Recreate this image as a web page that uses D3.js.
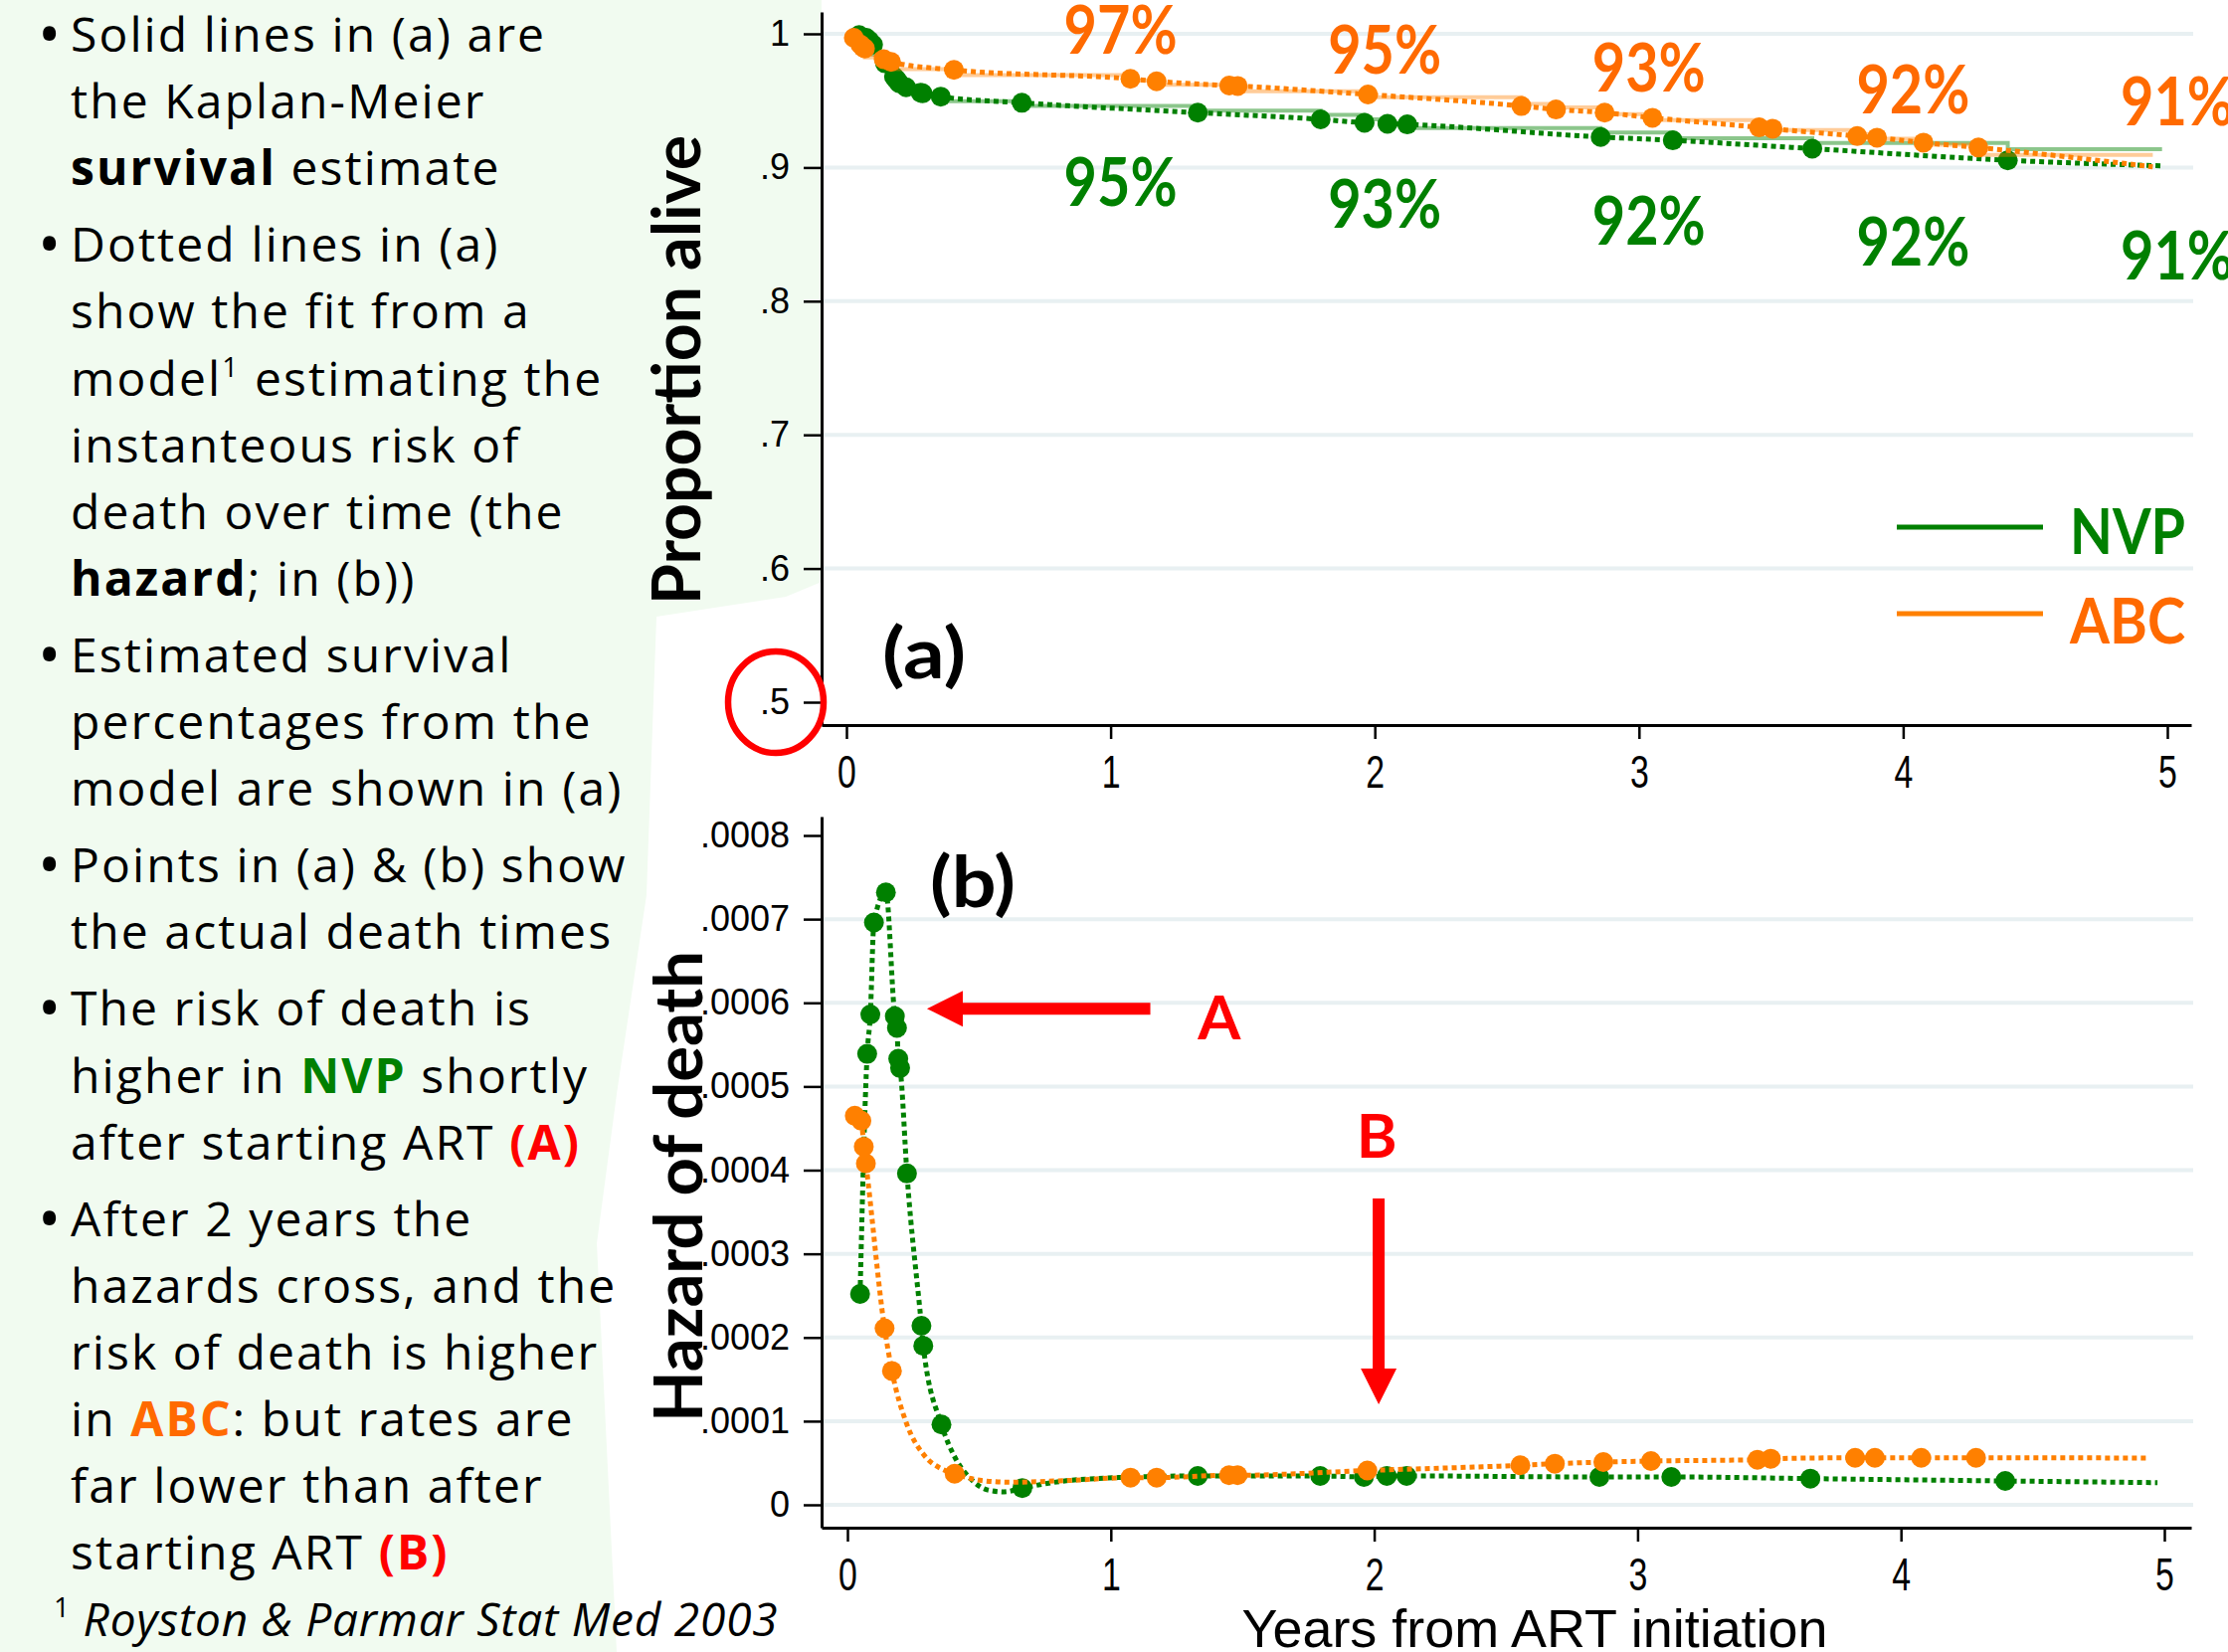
<!DOCTYPE html>
<html>
<head>
<meta charset="utf-8">
<script src="https://cdn.jsdelivr.net/npm/d3@7"></script>
<style>
  html, body { margin: 0; padding: 0; background: #fff; }
  svg { display: block; }
</style>
</head>
<body>
<svg id="mainsvg" width="2240" height="1661"></svg>
<script>
// ---- data ----
const yearTicks = [0, 1, 2, 3, 4, 5];
const survTicks = [0.5, 0.6, 0.7, 0.8, 0.9, 1];
const hazTicks = [0, 0.0001, 0.0002, 0.0003, 0.0004, 0.0005, 0.0006, 0.0007, 0.0008];

// NVP (green): death times, model survival, Kaplan-Meier level after each death, model hazard
const nvpTimes = [0.048, 0.075, 0.087, 0.1006, 0.146, 0.180, 0.188, 0.193, 0.200, 0.226, 0.281, 0.288, 0.357,
    0.664, 1.330, 1.795, 1.961, 2.048, 2.123, 2.855, 3.128, 3.656, 4.396];
const nvpFit = [0.999, 0.997, 0.995, 0.992, 0.978, 0.968, 0.966, 0.965, 0.963, 0.960, 0.956, 0.9555, 0.953,
    0.9484, 0.941, 0.936, 0.9335, 0.9327, 0.9322, 0.9228, 0.9203, 0.9141, 0.9054];
const nvpKM = [0.9961, 0.9922, 0.9884, 0.9845, 0.9806, 0.9767, 0.9729, 0.9690, 0.9651, 0.9612, 0.9574, 0.9535, 0.9496,
    0.9461, 0.9426, 0.9393, 0.9360, 0.9327, 0.9295, 0.9262, 0.9218, 0.9183, 0.9136];
const nvpHaz = [2.52e-4, 5.39e-4, 5.86e-4, 6.96e-4, 7.32e-4, 5.84e-4, 5.70e-4, 5.33e-4, 5.22e-4, 3.96e-4, 2.14e-4, 1.90e-4, 0.96e-4,
    0.20e-4, 0.345e-4, 0.345e-4, 0.333e-4, 0.345e-4, 0.345e-4, 0.333e-4, 0.333e-4, 0.313e-4, 0.285e-4];
const nvpEndTime = 4.98;
const nvpFitEnd = 0.9012;
const nvpHazCurveT = [0.411, 0.465, 0.530, 0.595, 0.81, 0.985, 4.974];
const nvpHazCurveH = [0.55e-4, 0.32e-4, 0.18e-4, 0.155e-4, 0.28e-4, 0.32e-4, 0.265e-4];

// ABC (orange)
const abcTimes = [0.028, 0.053, 0.062, 0.070, 0.141, 0.169, 0.407, 1.075, 1.174, 1.449, 1.481, 1.974,
    2.555, 2.686, 2.870, 3.051, 3.455, 3.506, 3.826, 3.901, 4.077, 4.285];
const abcFit = [0.997, 0.992, 0.990, 0.989, 0.981, 0.979, 0.973, 0.9663, 0.9645, 0.9613, 0.961, 0.9546,
    0.946, 0.9434, 0.941, 0.9372, 0.930, 0.929, 0.9235, 0.9223, 0.9186, 0.9149];
const abcKM = [0.9956, 0.9912, 0.9868, 0.9824, 0.9780, 0.9736, 0.9692, 0.9651, 0.9618, 0.9597, 0.9570, 0.9526,
    0.9475, 0.9450, 0.9400, 0.9355, 0.9315, 0.9280, 0.9250, 0.9215, 0.9170, 0.9095];
const abcHaz = [4.65e-4, 4.59e-4, 4.28e-4, 4.08e-4, 2.11e-4, 1.60e-4, 0.372e-4, 0.325e-4, 0.325e-4, 0.353e-4, 0.353e-4, 0.41e-4,
    0.472e-4, 0.491e-4, 0.511e-4, 0.523e-4, 0.539e-4, 0.551e-4, 0.562e-4, 0.562e-4, 0.562e-4, 0.562e-4];
const abcEndTime = 4.945;
const abcFitEnd = 0.9005;
const abcHazCurveT = [0.227, 0.292, 0.357, 0.509, 0.617, 0.833, 4.943];
const abcHazCurveH = [0.95e-4, 0.59e-4, 0.43e-4, 0.29e-4, 0.27e-4, 0.29e-4, 0.559e-4];

// survival percentages printed at each year, and the survival level their baseline sits at
const pctYears = [1, 2, 3, 4, 5];
const abcPct = ['97%', '95%', '93%', '92%', '91%'];
const nvpPct = ['95%', '93%', '92%', '92%', '91%'];
const abcPctAt = [0.9855, 0.9706, 0.9572, 0.9408, 0.9319];
const nvpPctAt = [0.8716, 0.8552, 0.8425, 0.8269, 0.8165];

// left hand notes
const notes = [
    [[['Solid lines in (a) are']], [['the Kaplan-Meier']], [['survival', 'b'], [' estimate']]],
    [[['Dotted lines in (a)']], [['show the fit from a']], [['model'], ['1', 'sup'], [' estimating the']],
        [['instanteous risk of']], [['death over time (the']], [['hazard', 'b'], ['; in (b))']]],
    [[['Estimated survival']], [['percentages from the']], [['model are shown in (a)']]],
    [[['Points in (a) & (b) show']], [['the actual death times']]],
    [[['The risk of death is']], [['higher in '], ['NVP', 'green'], [' shortly']], [['after starting ART '], ['(A)', 'red']]],
    [[['After 2 years the']], [['hazards cross, and the']], [['risk of death is higher']],
        [['in '], ['ABC', 'orange'], [': but rates are']], [['far lower than after']], [['starting ART '], ['(B)', 'red']]]
];

// ---- drawing ----
const GREEN = '#008000', ORANGE = '#ff8000', ORANGE_TXT = '#ff6a00', RED = '#ff0000';
const GRID = '#e8f0f2';
const svg = d3.select('#mainsvg');

svg.append('rect').attr('width', 2240).attr('height', 1661).attr('fill', '#fff');
// faint green backdrop of the slide
svg.append('path')
    .attr('d', 'M0,0 L826,0 L826,585 L790,600 L660,620 L650,900 L620,1100 L600,1250 L620,1661 L0,1661 Z')
    .attr('fill', '#f1fbf0');

// scales: tick positions first, then stretched to the full axis lines
const xTop0 = d3.scaleLinear().domain([0, 5]).range([851, 2179]);
const xTop = d3.scaleLinear().domain([xTop0.invert(826), xTop0.invert(2203)]).range([826, 2203]);
const yTop0 = d3.scaleLinear().domain([0.5, 1]).range([706, 34]);
const yTop = d3.scaleLinear().domain([yTop0.invert(729), yTop0.invert(12)]).range([729, 12]);
const xBot0 = d3.scaleLinear().domain([0, 5]).range([852, 2176]);
const xBot = d3.scaleLinear().domain([xBot0.invert(826), xBot0.invert(2203)]).range([826, 2203]);
const yBot0 = d3.scaleLinear().domain([0, 0.0008]).range([1513, 840]);
const yBot = d3.scaleLinear().domain([yBot0.invert(1536), yBot0.invert(821)]).range([1536, 821]);

const decFmt = d => d === 0 ? '0' : (d === 1 ? '1' : String(d).replace(/^0/, ''));

function drawFrame(x, y, yTickVals, gridVals, axisY) {
    const g = svg.append('g');
    g.selectAll('line.grid').data(gridVals).enter()
        .append('line')
        .attr('x1', 826).attr('x2', 2205)
        .attr('y1', d => y(d)).attr('y2', d => y(d))
        .attr('stroke', GRID).attr('stroke-width', 4);

    const ya = g.append('g').attr('transform', 'translate(826,0)')
        .call(d3.axisLeft(y).tickValues(yTickVals).tickFormat(decFmt).tickSize(18).tickSizeOuter(0).tickPadding(14));
    ya.select('.domain').attr('stroke-width', 3);
    ya.selectAll('.tick line').attr('stroke-width', 2.5);
    ya.selectAll('.tick text').attr('font-family', '"Liberation Sans", Arial, sans-serif')
        .attr('font-size', 36).attr('fill', '#000');

    const xa = g.append('g').attr('transform', `translate(0,${axisY})`)
        .call(d3.axisBottom(x).tickValues(yearTicks).tickFormat(d => String(d))
            .tickSize(14).tickSizeOuter(0).tickPadding(16));
    xa.select('.domain').attr('stroke-width', 3);
    xa.selectAll('.tick line').attr('stroke-width', 2.5);
    xa.selectAll('.tick text').attr('font-family', '"Liberation Sans", Arial, sans-serif')
        .attr('font-size', 47).attr('fill', '#000').attr('transform', 'scale(0.72,1)');
    return g;
}

drawFrame(xTop, yTop, survTicks, [0.6, 0.7, 0.8, 0.9, 1], 729);
drawFrame(xBot, yBot, hazTicks, hazTicks.slice(0, 8), 1536);

const pts = (ts, vs) => ts.map((t, i) => [t, vs[i]]);

function drawSeries(color, kmColor, times, fit, km, endT, fitEnd, haz, extraT, extraH) {
    // (a) Kaplan-Meier step line
    const kmPts = [[0, 1]].concat(pts(times, km), [[endT, km[km.length - 1]]]);
    svg.append('path').datum(kmPts)
        .attr('d', d3.line().curve(d3.curveStepAfter).x(d => xTop(d[0])).y(d => yTop(d[1])))
        .attr('fill', 'none').attr('stroke', kmColor).attr('stroke-width', 4);
    // (a) model fit, dotted
    const fitPts = pts(times, fit).concat([[endT, fitEnd]]);
    svg.append('path').datum(fitPts)
        .attr('d', d3.line().curve(d3.curveMonotoneX).x(d => xTop(d[0])).y(d => yTop(d[1])))
        .attr('fill', 'none').attr('stroke', color).attr('stroke-width', 5).attr('stroke-dasharray', '5 4');
    svg.append('g').selectAll('circle').data(pts(times, fit)).enter()
        .append('circle').attr('cx', d => xTop(d[0])).attr('cy', d => yTop(d[1])).attr('r', 10).attr('fill', color);

    // (b) hazard
    const hazPts = pts(times, haz).concat(pts(extraT, extraH)).sort((a, b) => a[0] - b[0]);
    svg.append('path').datum(hazPts)
        .attr('d', d3.line().curve(d3.curveMonotoneX).x(d => xBot(d[0])).y(d => yBot(d[1])))
        .attr('fill', 'none').attr('stroke', color).attr('stroke-width', 5).attr('stroke-dasharray', '5 4');
    svg.append('g').selectAll('circle').data(pts(times, haz)).enter()
        .append('circle').attr('cx', d => xBot(d[0])).attr('cy', d => yBot(d[1])).attr('r', 10).attr('fill', color);
}

drawSeries(GREEN, 'rgba(0,128,0,0.45)', nvpTimes, nvpFit, nvpKM, nvpEndTime, nvpFitEnd, nvpHaz, nvpHazCurveT, nvpHazCurveH);
drawSeries(ORANGE, 'rgba(255,128,0,0.4)', abcTimes, abcFit, abcKM, abcEndTime, abcFitEnd, abcHaz, abcHazCurveT, abcHazCurveH);

// percentage labels
function pctLabels(labels, at, color) {
    svg.append('g').selectAll('text').data(labels).enter()
        .append('text')
        .attr('x', (d, i) => xTop(pctYears[i]) + 10)
        .attr('y', (d, i) => yTop(at[i]))
        .attr('text-anchor', 'middle')
        .attr('font-family', 'Lato, sans-serif').attr('font-weight', 'bold').attr('font-size', 66)
        .attr('textLength', 114).attr('lengthAdjust', 'spacingAndGlyphs')
        .attr('fill', color)
        .text(d => d);
}
pctLabels(abcPct, abcPctAt, ORANGE_TXT);
pctLabels(nvpPct, nvpPctAt, GREEN);

// legend
const legend = [['NVP', GREEN, GREEN, 530, 557], ['ABC', ORANGE, ORANGE_TXT, 617, 647]];
legend.forEach(l => {
    svg.append('line').attr('x1', 1907).attr('x2', 2054).attr('y1', l[3]).attr('y2', l[3])
        .attr('stroke', l[1]).attr('stroke-width', 5);
    svg.append('text').attr('x', 2081).attr('y', l[4]).text(l[0])
        .attr('font-family', 'Lato, sans-serif').attr('font-weight', 'bold').attr('font-size', 63)
        .attr('textLength', 116).attr('lengthAdjust', 'spacingAndGlyphs').attr('fill', l[2]);
});

// panel letters and axis titles
const boldFont = 'Lato, sans-serif';
svg.append('text').attr('x', 929).attr('y', 682).attr('text-anchor', 'middle').text('(a)')
    .attr('font-family', boldFont).attr('font-weight', 'bold').attr('font-size', 70)
    .attr('textLength', 84).attr('lengthAdjust', 'spacingAndGlyphs');
svg.append('text').attr('x', 978).attr('y', 912).attr('text-anchor', 'middle').text('(b)')
    .attr('font-family', boldFont).attr('font-weight', 'bold').attr('font-size', 70)
    .attr('textLength', 86).attr('lengthAdjust', 'spacingAndGlyphs');
svg.append('text').attr('transform', 'translate(704,372) rotate(-90)').attr('text-anchor', 'middle')
    .text('Proportion alive').attr('font-family', boldFont).attr('font-weight', 'bold').attr('font-size', 66)
    .attr('textLength', 472).attr('lengthAdjust', 'spacingAndGlyphs');
svg.append('text').attr('transform', 'translate(706,1193) rotate(-90)').attr('text-anchor', 'middle')
    .text('Hazard of death').attr('font-family', boldFont).attr('font-weight', 'bold').attr('font-size', 66)
    .attr('textLength', 474).attr('lengthAdjust', 'spacingAndGlyphs');
svg.append('text').attr('x', 1543).attr('y', 1656).attr('text-anchor', 'middle')
    .text('Years from ART initiation')
    .attr('font-family', '"Liberation Sans", Arial, sans-serif').attr('font-size', 53)
    .attr('textLength', 589).attr('lengthAdjust', 'spacingAndGlyphs');

// red annotations
svg.append('ellipse').attr('cx', 780).attr('cy', yTop(0.5)).attr('rx', 48).attr('ry', 51)
    .attr('fill', 'none').attr('stroke', RED).attr('stroke-width', 6.5);

function arrow(x1, y1, x2, y2) {
    const dx = x2 - x1, dy = y2 - y1, len = Math.hypot(dx, dy);
    const ux = dx / len, uy = dy / len, head = 36, half = 18, shaft = 6;
    const bx = x2 - ux * head, by = y2 - uy * head;
    const p = [
        [x1 - uy * shaft, y1 + ux * shaft], [bx - uy * shaft, by + ux * shaft],
        [bx - uy * half, by + ux * half], [x2, y2],
        [bx + uy * half, by - ux * half], [bx + uy * shaft, by - ux * shaft],
        [x1 + uy * shaft, y1 - ux * shaft]
    ];
    svg.append('path').attr('d', 'M' + p.join('L') + 'Z').attr('fill', RED);
}
arrow(xBot(1.15), yBot(0.000593), xBot(0.302), yBot(0.000593));
arrow(xBot(2.017), yBot(0.000366), xBot(2.017), yBot(0.000120));
svg.append('text').attr('x', xBot(1.412)).attr('y', yBot(0.000556)).attr('text-anchor', 'middle').text('A')
    .attr('font-family', boldFont).attr('font-weight', 'bold').attr('font-size', 62).attr('fill', RED);
svg.append('text').attr('x', xBot(2.01)).attr('y', yBot(0.000415)).attr('text-anchor', 'middle').text('B')
    .attr('font-family', boldFont).attr('font-weight', 'bold').attr('font-size', 62).attr('fill', RED);

// left notes
const noteFont = '"Open Sans", sans-serif';
const styles = {
    b: { w: 'bold', c: '#000' }, green: { w: 'bold', c: GREEN },
    orange: { w: 'bold', c: ORANGE_TXT }, red: { w: 'bold', c: RED }
};
const tg = svg.append('g').attr('font-family', noteFont).attr('font-size', 48)
    .attr('letter-spacing', 2.1).attr('fill', '#000');
let yb = 52;
notes.forEach((para, pi) => {
    if (pi > 0) yb += 10;
    tg.append('text').attr('x', 38).attr('y', yb + 4).attr('font-size', 62).text('•');
    para.forEach(line => {
        const t = tg.append('text').attr('x', 71).attr('y', yb);
        let raised = false;
        line.forEach(seg => {
            const ts = t.append('tspan').text(seg[0]);
            if (seg[1] === 'sup') {
                ts.attr('font-size', 28).attr('dy', -19);
                raised = true;
            } else {
                if (raised) { ts.attr('dy', 19); raised = false; }
                if (styles[seg[1]]) ts.attr('font-weight', styles[seg[1]].w).attr('fill', styles[seg[1]].c);
            }
        });
        yb += 67.1;
    });
});
const foot = tg.append('text').attr('x', 54).attr('y', yb).attr('letter-spacing', 0.8);
foot.append('tspan').text('1').attr('font-size', 28).attr('dy', -19);
foot.append('tspan').text(' Royston & Parmar Stat Med 2003').attr('dy', 19)
    .attr('font-style', 'italic').attr('font-size', 46);
</script>
</body>
</html>
